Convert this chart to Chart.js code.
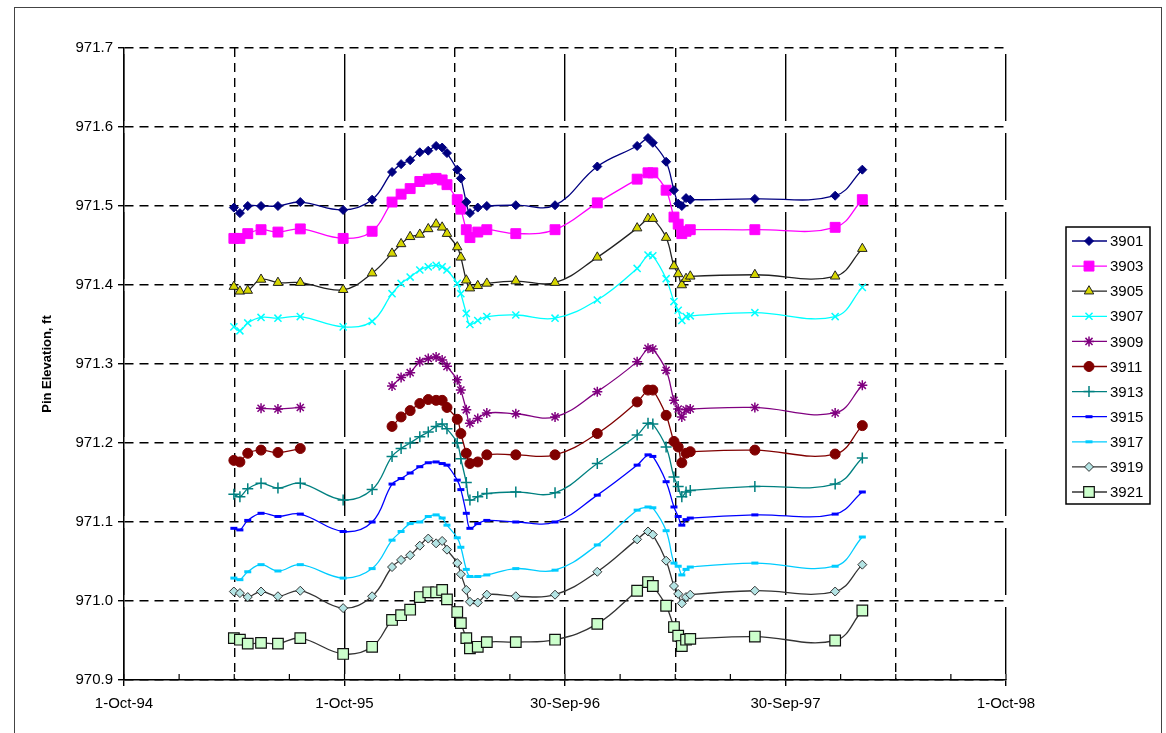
<!DOCTYPE html>
<html>
<head>
<meta charset="utf-8">
<script src="https://cdn.jsdelivr.net/npm/chart.js@4.4.0/dist/chart.umd.min.js"></script>
<style>
  body { margin: 0; background: #fff; }
  #wrap { position: relative; width: 1166px; height: 733px; overflow: hidden; }
  #frame { position: absolute; left: 14px; top: 7px; width: 1146px; height: 740px; border: 1.5px solid #444; pointer-events: none; }
  canvas { position: absolute; left: 0; top: 0; }
</style>
</head>
<body>
<div id="wrap"><canvas id="pinChart" width="1166" height="733"></canvas><div id="frame"></div></div>
<script>
const startDate = "1994-10-01";
const xTickLabels = ["1-Oct-94", "1-Oct-95", "30-Sep-96", "30-Sep-97", "1-Oct-98"];

const sampleDates = [
    "1995-04-01", "1995-04-11", "1995-04-24", "1995-05-16", "1995-06-13", "1995-07-20",
    "1995-09-29", "1995-11-16", "1995-12-19", "1996-01-03", "1996-01-18", "1996-02-03",
    "1996-02-17", "1996-03-01", "1996-03-11", "1996-03-19", "1996-04-05", "1996-04-11",
    "1996-04-20", "1996-04-26", "1996-05-09", "1996-05-24", "1996-07-11", "1996-09-14",
    "1996-11-23", "1997-01-28", "1997-02-15", "1997-02-23", "1997-03-17", "1997-03-30",
    "1997-04-06", "1997-04-12", "1997-04-19", "1997-04-26", "1997-08-11", "1997-12-22",
    "1998-02-05"
];

const pin3901 = [971.498, 971.491, 971.500, 971.500, 971.500, 971.505, 971.495, 971.508, 971.543, 971.553,
    971.558, 971.568, 971.570, 971.576, 971.574, 971.567, 971.546, 971.535, 971.505, 971.491,
    971.498, 971.500, 971.501, 971.501, 971.550, 971.576, 971.586, 971.580, 971.556, 971.520,
    971.503, 971.500, 971.510, 971.508, 971.509, 971.513, 971.546];
const pin3903 = [971.459, 971.459, 971.465, 971.470, 971.467, 971.471, 971.459, 971.468, 971.505, 971.515,
    971.522, 971.531, 971.534, 971.535, 971.533, 971.527, 971.508, 971.496, 971.470, 971.460,
    971.467, 971.470, 971.465, 971.470, 971.504, 971.534, 971.542, 971.542, 971.520, 971.486,
    971.477, 971.465, 971.468, 971.470, 971.470, 971.473, 971.508];
const pin3905 = [971.398, 971.392, 971.393, 971.407, 971.403, 971.403, 971.394, 971.415, 971.440, 971.452,
    971.461, 971.464, 971.471, 971.477, 971.473, 971.465, 971.448, 971.435, 971.406, 971.396,
    971.399, 971.402, 971.405, 971.403, 971.435, 971.472, 971.484, 971.484, 971.460, 971.424,
    971.414, 971.400, 971.408, 971.411, 971.413, 971.411, 971.446];
const pin3907 = [971.347, 971.342, 971.352, 971.359, 971.358, 971.360, 971.347, 971.354, 971.389, 971.402,
    971.410, 971.419, 971.423, 971.425, 971.423, 971.419, 971.402, 971.389, 971.364, 971.350,
    971.355, 971.360, 971.362, 971.358, 971.381, 971.421, 971.438, 971.437, 971.408, 971.379,
    971.368, 971.355, 971.360, 971.361, 971.365, 971.360, 971.397];
const pin3909 = [null, null, null, 971.244, 971.243, 971.245, null, null, 971.272, 971.283,
    971.289, 971.303, 971.307, 971.309, 971.305, 971.297, 971.280, 971.267, 971.242, 971.225,
    971.231, 971.238, 971.237, 971.233, 971.265, 971.303, 971.320, 971.319, 971.292, 971.254,
    971.243, 971.233, 971.242, 971.243, 971.245, 971.238, 971.273];
const pin3911 = [971.178, 971.176, 971.187, 971.191, 971.188, 971.193, null, null, 971.221, 971.233,
    971.241, 971.250, 971.255, 971.254, 971.254, 971.245, 971.230, 971.212, 971.187, 971.174,
    971.176, 971.185, 971.185, 971.185, 971.212, 971.252, 971.267, 971.267, 971.235, 971.202,
    971.195, 971.175, 971.187, 971.189, 971.191, 971.186, 971.222];
const pin3913 = [971.135, 971.132, 971.142, 971.149, 971.143, 971.149, 971.128, 971.141, 971.183, 971.193,
    971.200, 971.208, 971.214, 971.221, 971.224, 971.218, 971.200, 971.180, 971.150, 971.128,
    971.132, 971.136, 971.138, 971.137, 971.174, 971.210, 971.225, 971.224, 971.195, 971.157,
    971.145, 971.132, 971.138, 971.140, 971.145, 971.148, 971.181];
const pin3915 = [971.092, 971.090, 971.102, 971.111, 971.107, 971.110, 971.088, 971.100, 971.148, 971.155,
    971.162, 971.170, 971.175, 971.176, 971.174, 971.172, 971.153, 971.141, 971.111, 971.092,
    971.098, 971.102, 971.100, 971.100, 971.134, 971.172, 971.185, 971.183, 971.151, 971.119,
    971.107, 971.096, 971.103, 971.105, 971.109, 971.110, 971.138];
const pin3917 = [971.029, 971.027, 971.037, 971.046, 971.038, 971.046, 971.029, 971.041, 971.077, 971.088,
    971.098, 971.100, 971.107, 971.109, 971.105, 971.096, 971.080, 971.068, 971.040, 971.031,
    971.031, 971.033, 971.041, 971.039, 971.071, 971.115, 971.119, 971.118, 971.089, 971.048,
    971.044, 971.033, 971.040, 971.043, 971.048, 971.044, 971.081];
const pin3919 = [971.012, 971.010, 971.005, 971.012, 971.006, 971.013, 970.991, 971.006, 971.043, 971.052,
    971.058, 971.070, 971.079, 971.073, 971.076, 971.065, 971.048, 971.034, 971.014, 970.999,
    970.998, 971.008, 971.006, 971.008, 971.037, 971.078, 971.088, 971.084, 971.051, 971.019,
    971.009, 970.997, 971.005, 971.008, 971.013, 971.012, 971.046];
const pin3921 = [970.953, 970.951, 970.946, 970.947, 970.946, 970.953, 970.933, 970.942, 970.976, 970.982,
    970.989, 971.005, 971.011, 971.011, 971.014, 971.002, 970.986, 970.972, 970.953, 970.940,
    970.942, 970.948, 970.948, 970.951, 970.971, 971.013, 971.024, 971.019, 970.994, 970.967,
    970.956, 970.943, 970.951, 970.952, 970.955, 970.950, 970.988];

// quarter-year step, so 16 steps span 1-Oct-94 .. 1-Oct-98
const QUARTER = 365.25 / 4;

function dayOffset(iso) {
    return (Date.parse(iso) - Date.parse(startDate)) / 86400000;
}

function points(values) {
    return values.map((v, i) => ({ x: dayOffset(sampleDates[i]), y: v }));
}

function series(label, values, line, style, radius, fill, border, borderWidth) {
    return {
        label: label,
        data: points(values),
        borderColor: line,
        borderWidth: 1.3,
        tension: 0.4,
        spanGaps: false,
        pointStyle: style,
        pointRadius: radius,
        pointHoverRadius: radius,
        pointBackgroundColor: fill,
        pointBorderColor: border,
        pointBorderWidth: borderWidth
    };
}

const datasets = [
    series("3901", pin3901, "#000080", "rectRot", 4.5, "#000080", "#000080", 1),
    series("3903", pin3903, "#ff00ff", "rect", 7, "#ff00ff", "#ff00ff", 1),
    series("3905", pin3905, "#222222", "triangle", 5.5, "#d6d600", "#222222", 1),
    series("3907", pin3907, "#00ffff", "crossRot", 5, "#00ffff", "#00ffff", 1.5),
    series("3909", pin3909, "#800080", "star", 5, "#800080", "#800080", 1.5),
    series("3911", pin3911, "#800000", "circle", 5, "#800000", "#800000", 1),
    series("3913", pin3913, "#008080", "cross", 5.5, "#008080", "#008080", 1.5),
    series("3915", pin3915, "#0000ff", "line", 3.5, "#0000ff", "#0000ff", 3),
    series("3917", pin3917, "#00ccff", "line", 3.5, "#00ccff", "#00ccff", 3),
    series("3919", pin3919, "#333333", "rectRot", 4.5, "#b4e4e4", "#333333", 1),
    series("3921", pin3921, "#333333", "rect", 7.5, "#ccffcc", "#111111", 1.2)
];

const boxLegend = {
    id: "boxLegend",
    afterDraw(chart) {
        const ctx = chart.ctx;
        ctx.save();
        ctx.fillStyle = "#fff";
        ctx.fillRect(1066, 227, 84, 277);
        ctx.strokeStyle = "#000";
        ctx.lineWidth = 1.5;
        ctx.strokeRect(1066, 227, 84, 277);
        chart.data.datasets.forEach((ds, i) => {
            const y = 241 + i * 25.1;
            ctx.strokeStyle = ds.borderColor;
            ctx.lineWidth = ds.borderWidth;
            ctx.beginPath();
            ctx.moveTo(1072, y);
            ctx.lineTo(1107, y);
            ctx.stroke();
            ctx.fillStyle = ds.pointBackgroundColor;
            ctx.strokeStyle = ds.pointBorderColor;
            ctx.lineWidth = ds.pointBorderWidth;
            Chart.helpers.drawPoint(ctx, {
                pointStyle: ds.pointStyle,
                radius: ds.pointRadius,
                borderWidth: ds.pointBorderWidth,
                rotation: 0
            }, 1089, y);
            ctx.fillStyle = "#000";
            ctx.font = "15px 'Liberation Sans', Arial, sans-serif";
            ctx.textBaseline = "middle";
            ctx.fillText(ds.label, 1110, y + 1);
        });
        ctx.restore();
    }
};

// small tick marks on the inside of the date axis at every quarter
const quarterTicks = {
    id: "quarterTicks",
    afterDatasetsDraw(chart) {
        const ctx = chart.ctx;
        const xScale = chart.scales.x;
        const bottom = chart.chartArea.bottom;
        ctx.save();
        ctx.strokeStyle = "#000";
        ctx.lineWidth = 1.2;
        xScale.ticks.forEach(t => {
            const px = xScale.getPixelForValue(t.value);
            ctx.beginPath();
            ctx.moveTo(px, bottom);
            ctx.lineTo(px, bottom - 6);
            ctx.stroke();
        });
        ctx.restore();
    }
};

Chart.defaults.font.family = "'Liberation Sans', Arial, sans-serif";
Chart.defaults.color = "#000";

new Chart(document.getElementById("pinChart").getContext("2d"), {
    type: "line",
    data: { datasets: datasets },
    options: {
        responsive: false,
        animation: false,
        layout: { padding: { left: 40, top: 48, right: 160, bottom: 0 } },
        plugins: {
            legend: { display: false },
            tooltip: { enabled: false }
        },
        scales: {
            x: {
                type: "linear",
                min: 0,
                max: 4 * 365.25,
                afterBuildTicks: scale => {
                    scale.ticks = Array.from({ length: 17 }, (_, i) => ({ value: i * QUARTER }));
                },
                afterFit: scale => { scale.height = 53; },
                ticks: {
                    autoSkip: false,
                    maxRotation: 0,
                    padding: 9,
                    font: { size: 15 },
                    callback: (value, index) => index % 4 === 0 ? xTickLabels[index / 4] : ""
                },
                grid: {
                    color: c => c.index % 2 === 0 ? "#000" : "rgba(0,0,0,0)",
                    lineWidth: 1.4,
                    tickLength: 6,
                    tickColor: c => c.index % 4 === 0 ? "#000" : "rgba(0,0,0,0)"
                },
                border: {
                    color: "#000",
                    width: 1.5,
                    dash: c => (c.index % 4 === 0 ? [67, 12] : [9, 6]),
                    dashOffset: c => (c.index % 4 === 0 ? 73 : 0)
                }
            },
            y: {
                min: 970.9,
                max: 971.7,
                afterBuildTicks: scale => {
                    scale.ticks = Array.from({ length: 9 }, (_, i) => ({ value: 970.9 + i * 0.1 }));
                },
                afterFit: scale => { scale.width = 84; },
                ticks: {
                    padding: 5,
                    font: { size: 15 },
                    callback: value => value.toFixed(1)
                },
                grid: {
                    color: "#000",
                    lineWidth: 1.4,
                    tickLength: 6
                },
                border: {
                    color: "#000",
                    width: 1.5,
                    dash: [9, 6]
                },
                title: {
                    display: true,
                    text: "Pin Elevation, ft",
                    font: { size: 13, weight: "bold" },
                    padding: { top: 0, bottom: 0 }
                }
            }
        }
    },
    plugins: [quarterTicks, boxLegend]
});
</script>
</body>
</html>
